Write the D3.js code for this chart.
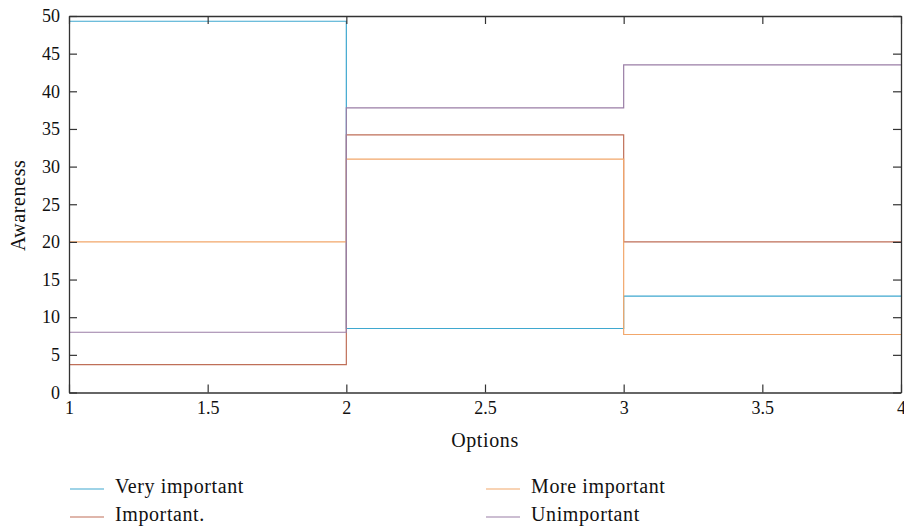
<!DOCTYPE html>
<html>
<head>
<meta charset="utf-8">
<script src="https://cdn.jsdelivr.net/npm/d3@7"></script>
<style>
  body { margin: 0; background: #fff; }
</style>
</head>
<body>
<svg id="chart" width="904" height="531"></svg>
<script>
const options = [1, 2, 3, 4]
const seriesNames = ['Very important', 'Important.', 'More important', 'Unimportant']
const veryImportant = [49.3, 8.5, 12.8, 12.8]
const important = [3.7, 34.2, 20, 20]
const moreImportant = [20, 31, 7.7, 7.7]
const unimportant = [8, 37.8, 43.5, 43.5]
const xTicks = [1, 1.5, 2, 2.5, 3, 3.5, 4]
const yTicks = [0, 5, 10, 15, 20, 25, 30, 35, 40, 45, 50]

const colors = ['#3fa8cf', '#bf6f58', '#f2a76b', '#9a7ea6']
const series = [veryImportant, important, moreImportant, unimportant]

const serif = "'Liberation Serif', 'DejaVu Serif', serif"
const marginLeft = 69
const marginRight = 3
const marginTop = 16
const plotBottom = 392.5

const svg = d3.select('#chart')
const width = 904 - marginLeft - marginRight
const height = plotBottom - marginTop

const x = d3.scaleLinear().domain([1, 4]).range([0, width])
const y = d3.scaleLinear().domain([0, 50]).range([height, 0])

const g = svg.append('g').attr('transform', `translate(${marginLeft} ${marginTop})`)

const line = d3
  .line()
  .x((d) => x(d[0]))
  .y((d) => y(d[1]))
  .curve(d3.curveStepAfter)

series.forEach((values, i) => {
  g.append('path')
    .datum(options.map((o, j) => [o, values[j]]))
    .attr('fill', 'none')
    .attr('stroke', colors[i])
    .attr('stroke-width', 1.2)
    .attr('d', line)
})

// axes: inward ticks on all four sides, like a boxed plot
const styleAxis = (sel) => {
  sel.selectAll('.domain').attr('stroke', '#333').attr('stroke-width', 1.3)
  sel.selectAll('.tick line').attr('stroke', '#333').attr('stroke-width', 1.2)
  sel.selectAll('text')
    .style('font-family', serif)
    .style('font-size', '18px')
    .attr('fill', '#111')
}

g.append('g')
  .attr('transform', `translate(0 ${height})`)
  .call(d3.axisBottom(x).tickValues(xTicks).tickFormat(d3.format('')).tickSizeInner(-8).tickSizeOuter(0).tickPadding(9))
  .call(styleAxis)

g.append('g')
  .call(d3.axisLeft(y).tickValues(yTicks).tickSizeInner(-8).tickSizeOuter(0).tickPadding(9))
  .call(styleAxis)

g.append('g')
  .call(d3.axisTop(x).tickValues(xTicks).tickFormat('').tickSizeInner(-8).tickSizeOuter(0))
  .call(styleAxis)

g.append('g')
  .attr('transform', `translate(${width} 0)`)
  .call(d3.axisRight(y).tickValues(yTicks).tickFormat('').tickSizeInner(-8).tickSizeOuter(0))
  .call(styleAxis)

const label = (sel) =>
  sel.style('font-family', serif)
    .style('font-size', '20px')
    .style('letter-spacing', '0.6px')
    .attr('fill', '#111')

svg.append('text')
  .attr('x', marginLeft + width / 2)
  .attr('y', 447)
  .attr('text-anchor', 'middle')
  .call(label)
  .text('Options')

svg.append('text')
  .attr('transform', `translate(25 ${marginTop + height / 2 + 1}) rotate(-90)`)
  .attr('text-anchor', 'middle')
  .call(label)
  .text('Awareness')

// legend, two columns
const legendPos = [[70, 489], [70, 517], [486, 489], [486, 517]]
const legend = svg.append('g')
seriesNames.forEach((name, i) => {
  const [lx, ly] = legendPos[i]
  legend.append('line')
    .attr('x1', lx).attr('x2', lx + 34)
    .attr('y1', ly).attr('y2', ly)
    .attr('stroke', colors[i])
    .attr('stroke-width', 1.2)
  legend.append('text')
    .attr('x', lx + 45)
    .attr('y', ly + 4)
    .call(label)
    .text(name)
})
</script>
</body>
</html>
